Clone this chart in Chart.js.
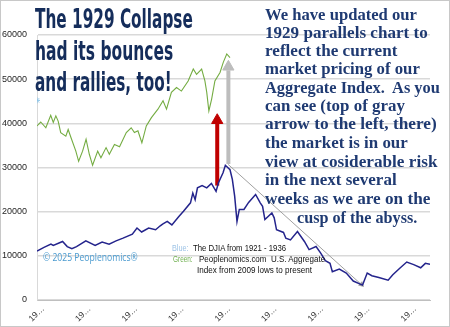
<!DOCTYPE html>
<html>
<head>
<meta charset="utf-8">
<script src="https://cdn.jsdelivr.net/npm/chart.js@4/dist/chart.umd.min.js"></script>
<style>
  body { margin: 0; background: #fff; }
  #wrap { position: relative; width: 450px; height: 327px; box-sizing: border-box; border: 1px solid #C8C8C8; overflow: hidden; }
  #myChart { position: absolute; left: -1px; top: -1px; }
  .fit { position: absolute; white-space: pre; width: max-content; transform-origin: 0 0; }
  .title { font-family: "DejaVu Sans Condensed", "Liberation Sans Narrow", "DejaVu Sans", sans-serif; font-weight: bold; font-stretch: condensed; font-size: 27px; line-height: 32px; color: #152D5B; }
  .note { font-family: "Liberation Serif", "DejaVu Serif", serif; font-weight: bold; font-size: 17.5px; line-height: 18.4px; color: #1F3A72; }
  .leg { font-family: "Liberation Sans", Arial, sans-serif; font-size: 9px; line-height: 10px; color: #111; }
  .copy { font-family: "Open Sans", "Liberation Sans", sans-serif; font-size: 10.5px; line-height: 12px; color: #4B9BD0; }
</style>
</head>
<body>
<div id="wrap">
  <canvas id="myChart" width="450" height="327"></canvas>
</div>
<script>
// x = month index from Jan 1921, y = index level (scaled)
const blueX = [0, 3, 6, 7, 11, 13, 15, 17, 21, 25, 28, 31, 34, 37, 41, 43, 45, 48, 51, 53, 54, 56, 58, 61, 63, 66, 67, 68, 69, 71, 73, 75, 77, 78, 80, 81, 83, 84, 85, 86, 87, 89, 91, 94, 96, 97, 98, 101, 102, 103, 106, 107, 109, 112, 115, 117, 120, 122, 124, 126, 127, 130, 133, 136, 139, 140, 142, 144, 147, 151, 153, 156, 159, 162, 165, 167, 169];
const blueY = [11100, 11900, 12650, 12350, 13250, 12100, 11600, 12100, 13400, 12350, 13100, 12650, 13400, 14000, 14900, 16300, 15400, 16300, 15900, 16800, 17200, 17800, 17000, 18900, 20100, 22000, 24200, 22700, 25400, 25900, 25400, 26400, 24600, 26500, 28800, 30500, 29500, 27300, 23500, 17800, 20500, 20500, 22100, 23900, 22000, 21200, 18200, 19700, 18600, 15900, 15300, 14000, 13600, 15500, 13250, 11400, 12100, 10600, 8900, 8300, 6400, 7000, 6100, 4300, 3600, 3400, 6100, 5500, 5100, 4500, 5700, 7200, 8600, 8000, 7300, 8300, 8100];

const greenX = [0, 1.6, 3.8, 5.9, 7, 8.1, 9.1, 10.2, 12.4, 13.4, 14.6, 16.7, 17.9, 19.6, 21.1, 22.5, 23.9, 26.1, 27.5, 29.7, 31.1, 33.3, 35.5, 38.4, 40.5, 41.9, 43.4, 45.1, 47, 49.2, 52, 54.2, 55.7, 57.8, 60, 62.1, 65, 67.2, 68.6, 70.8, 72.2, 73, 73.9, 75.1, 76.5, 78.7, 80.1, 81.6, 83];
const greenY = [39400, 40300, 39000, 41800, 40200, 41700, 40500, 37900, 37100, 38600, 36800, 33700, 31400, 33700, 36400, 33000, 30500, 33700, 32200, 34500, 33000, 35200, 34700, 37900, 39000, 37900, 38300, 35600, 39400, 41300, 43200, 45100, 43200, 47000, 48100, 47300, 49600, 52300, 51100, 52300, 49600, 47000, 42800, 45500, 49600, 51500, 53800, 55700, 54900];

// arrows: [x, yFrom, yTo]
const redArrow = [77.5, 25900, 40000];
const redHead = 40700;
const grayArrow = [82.3, 30800, 52000];
const grayHead = 52800;
const trendX = [82.2, 139.5];
const trendY = [30700, 3500];
const markerX = [0];
const markerY = [45200];

const yTicks = [0, 10000, 20000, 30000, 40000, 50000, 60000];
const xTickLabel = '19…';

const toPts = (xs, ys) => xs.map((x, i) => ({ x: x, y: ys[i] }));

var ctx = document.getElementById('myChart').getContext('2d');

var myChart = new Chart(ctx, {
    type: 'line',
    data: {
        datasets: [
            { data: toPts(greenX, greenY), borderColor: '#74AC42', borderWidth: 1.1, pointRadius: 0, tension: 0 },
            { data: toPts(blueX, blueY), borderColor: '#24248C', borderWidth: 1.5, pointRadius: 0, tension: 0 },
            { data: toPts([redArrow[0], redArrow[0]], [redArrow[1], redArrow[2]]), borderColor: '#C00000', borderWidth: 4, pointRadius: 0 },
            { data: toPts([redArrow[0]], [redHead]), showLine: false, pointStyle: 'triangle', pointRadius: 6.5, backgroundColor: '#C00000', borderColor: '#C00000', borderWidth: 1 },
            { data: toPts([grayArrow[0], grayArrow[0]], [grayArrow[1], grayArrow[2]]), borderColor: '#BDBDBD', borderWidth: 4, pointRadius: 0 },
            { data: toPts([grayArrow[0]], [grayHead]), showLine: false, pointStyle: 'triangle', pointRadius: 6.5, backgroundColor: '#BDBDBD', borderColor: '#BDBDBD', borderWidth: 1 },
            { data: toPts(trendX, trendY), borderColor: '#A0A0A0', borderWidth: 1, pointRadius: 0 },
            { data: toPts([trendX[1]], [trendY[1]]), showLine: false, pointStyle: 'triangle', pointRotation: 132, pointRadius: 3.5, backgroundColor: '#A0A0A0', borderColor: '#A0A0A0', borderWidth: 0 },
            { data: toPts(markerX, markerY), showLine: false, pointStyle: 'star', pointRadius: 3, borderColor: '#8CC4E8', borderWidth: 1 }
        ]
    },
    options: {
        responsive: false,
        animation: false,
        devicePixelRatio: 1,
        layout: { padding: { top: 35, right: 20, left: 0, bottom: 0 } },
        plugins: { legend: { display: false }, tooltip: { enabled: false } },
        scales: {
            x: {
                type: 'linear',
                min: 0,
                max: 169,
                afterFit: function (s) { s.height = 27; },
                grid: { display: false, drawTicks: false },
                border: { display: true, color: '#BFBFBF', width: 1 },
                ticks: {
                    stepSize: 20,
                    includeBounds: false,
                    minRotation: 45,
                    maxRotation: 45,
                    padding: 4,
                    labelOffset: 6,
                    color: '#333',
                    font: { family: 'Liberation Sans', size: 8.5 },
                    callback: function () { return xTickLabel; }
                }
            },
            y: {
                min: 0,
                max: 60000,
                afterFit: function (s) { s.width = 37; },
                afterBuildTicks: function (s) { s.ticks = yTicks.map(v => ({ value: v })); },
                grid: { color: '#D9D9D9', lineWidth: 1.5, drawTicks: false },
                border: { display: true, color: '#D9D9D9', width: 1 },
                ticks: {
                    padding: 10,
                    color: '#262626',
                    font: { family: 'Liberation Sans', size: 9 },
                    callback: function (v) { return String(v); }
                }
            }
        }
    }
});

// overlay texts: [text, class, left, top, width, color]
const texts = [
    ['The 1929 Collapse', 'title', 35, 2.5, 158],
    ['had its bounces', 'title', 35, 34.5, 138],
    ['and rallies, too!', 'title', 35, 66, 137],
    ['We have updated our', 'note', 265, 5, 152],
    ['1929 parallels chart to', 'note', 265, 22.5, 163],
    ['reflect the current', 'note', 265, 41, 132],
    ['market pricing of our', 'note', 265, 59, 155],
    ['Aggregate Index.  As you', 'note', 265, 77.5, 175],
    ['can see (top of gray', 'note', 265, 96, 140],
    ['arrow to the left, there)', 'note', 265, 114, 172],
    ['the market is in our', 'note', 265, 132.5, 143],
    ['view at cosiderable risk', 'note', 265, 151.5, 172],
    ['in the next several', 'note', 265, 170, 132],
    ['weeks as we are on the', 'note', 265, 189, 165],
    ['cusp of the abyss.', 'note', 297, 207.5, 120],
    ['© 2025 Peoplenomics®', 'copy', 43, 250.5, 95],
    ['Blue:', 'leg', 172, 243, 17, '#9DC3E6'],
    ['The DJIA from 1921 - 1936', 'leg', 193, 243, 93],
    ['Green:', 'leg', 173, 254, 20, '#70B050'],
    ['Peoplenomics.com  U.S. Aggregate', 'leg', 199, 254, 126],
    ['Index from 2009 lows to present', 'leg', 197, 264.5, 115]
];

const wrap = document.getElementById('wrap');
texts.forEach(function (t) {
    let el = document.createElement('div');
    el.className = 'fit ' + t[1];
    el.textContent = t[0];
    el.style.left = (t[2] - 1) + 'px';
    el.style.top = (t[3] - 1) + 'px';
    if (t[5]) { el.style.color = t[5]; }
    wrap.appendChild(el);
    el.style.transform = 'scaleX(' + (t[4] / el.scrollWidth) + ')';
});
</script>
</body>
</html>
